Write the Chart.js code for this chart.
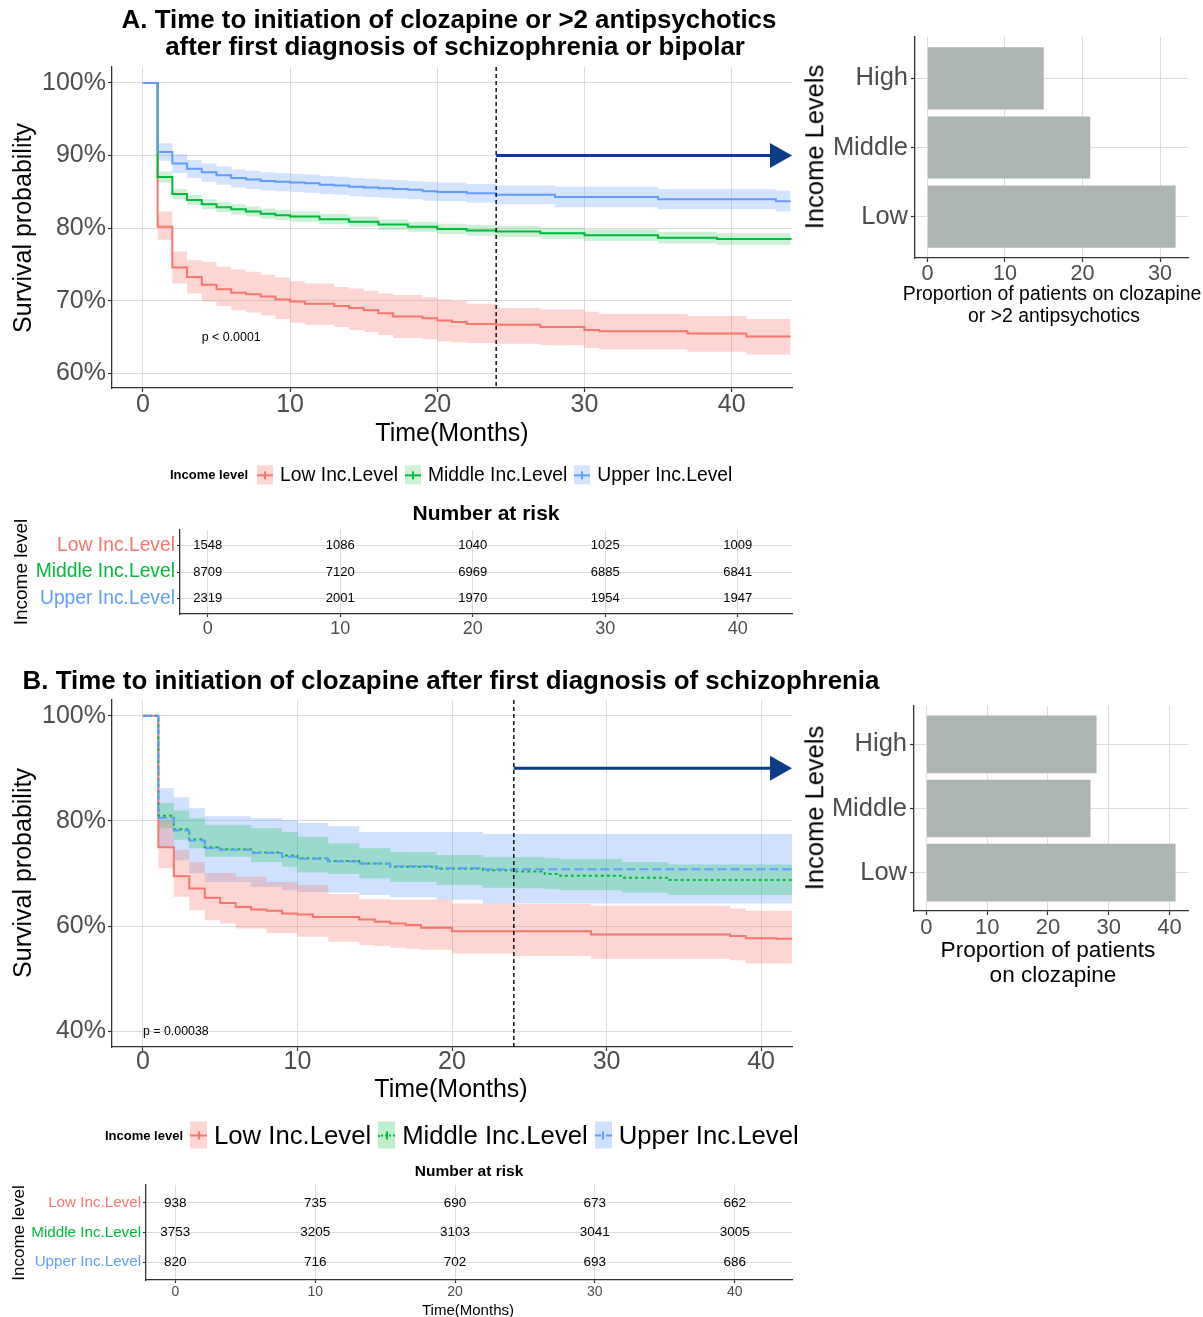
<!DOCTYPE html>
<html>
<head>
<meta charset="utf-8">
<title>Time to initiation of clozapine by income level</title>
<script src="https://cdn.jsdelivr.net/npm/chart.js@4.4.1/dist/chart.umd.min.js"></script>
<style>
  body { margin: 0; background: #fff; }
  #page { position: relative; width: 1203px; height: 1317px; overflow: hidden; font-family: "Liberation Sans", Arial, Helvetica, sans-serif; }
  #page canvas { position: absolute; left: 0; top: 0; }
  .txt { position: absolute; white-space: nowrap; line-height: 1; color: #000; transform: translate(-50%, -50%); }
  .rot { transform: translate(-50%, -50%) rotate(-90deg); }
  .bold { font-weight: bold; }
  .legend { position: absolute; display: flex; align-items: center; transform: translateY(-50%); white-space: nowrap; line-height: 1; }
  .key { position: relative; flex: none; }
  .key .h { position: absolute; left: 0; right: 0; top: 50%; height: 0; margin-top: -1px; border-top-width: 2px; }
  .key .v { position: absolute; left: 50%; top: 50%; width: 2px; height: 8px; margin-left: -1px; margin-top: -4px; }
</style>
</head>
<body>
<div id="page">
  <canvas id="kmA" width="1203" height="1317"></canvas>
  <canvas id="barA" width="1203" height="1317"></canvas>
  <canvas id="riskA" width="1203" height="1317"></canvas>
  <canvas id="kmB" width="1203" height="1317"></canvas>
  <canvas id="barB" width="1203" height="1317"></canvas>
  <canvas id="riskB" width="1203" height="1317"></canvas>

  <!-- panel A -->
  <div class="txt bold" style="left:449px; top:20px; font-size:25.9px;">A. Time to initiation of clozapine or &gt;2 antipsychotics</div>
  <div class="txt bold" style="left:455px; top:47px; font-size:25.9px;">after first diagnosis of schizophrenia or bipolar</div>
  <div class="txt rot" style="left:22px; top:228px; font-size:25px;">Survival probability</div>
  <div class="txt" style="left:452px; top:432px; font-size:25px;">Time(Months)</div>
  <div class="legend" id="legA" style="left:170px; top:475px;"></div>
  <div class="txt bold" style="left:486px; top:512px; font-size:21px;">Number at risk</div>
  <div class="txt rot" style="left:20px; top:572px; font-size:19px;">Income level</div>
  <div class="txt rot" style="left:815px; top:147px; font-size:25.5px;">Income Levels</div>
  <div class="txt" style="left:1052px; top:294px; font-size:19.4px;">Proportion of patients on clozapine</div>
  <div class="txt" style="left:1054px; top:316px; font-size:19.4px;">or &gt;2 antipsychotics</div>

  <!-- panel B -->
  <div class="txt bold" style="left:451px; top:681px; font-size:25.9px;">B. Time to initiation of clozapine after first diagnosis of schizophrenia</div>
  <div class="txt rot" style="left:22px; top:873px; font-size:25px;">Survival probability</div>
  <div class="txt" style="left:451px; top:1088px; font-size:25px;">Time(Months)</div>
  <div class="legend" id="legB" style="left:105px; top:1135px;"></div>
  <div class="txt bold" style="left:469px; top:1171px; font-size:15.5px;">Number at risk</div>
  <div class="txt rot" style="left:18px; top:1233px; font-size:17px;">Income level</div>
  <div class="txt" style="left:468px; top:1309px; font-size:15px;">Time(Months)</div>
  <div class="txt rot" style="left:815px; top:808px; font-size:25.5px;">Income Levels</div>
  <div class="txt" style="left:1048px; top:950px; font-size:22.6px;">Proportion of patients</div>
  <div class="txt" style="left:1053px; top:975px; font-size:22.6px;">on clozapine</div>
</div>

<script>
// ---------- data ----------
const strata = ['Low Inc.Level', 'Middle Inc.Level', 'Upper Inc.Level'];
const incomeLevels = ['Low', 'Middle', 'High'];
const timeTicks = [0, 10, 20, 30, 40];
const aSurvTicks = [60, 70, 80, 90, 100];
const bSurvTicks = [40, 60, 80, 100];
const aPropTicks = [0, 10, 20, 30];
const bPropTicks = [0, 10, 20, 30, 40];

// A: clozapine or >2 antipsychotics, survival (%) with confidence band
const aLowT  = [0, 1, 2, 3, 4, 5, 6, 7, 8, 9, 10, 11, 13, 14, 15, 16, 17, 19, 20, 21, 22, 24, 27, 30, 31, 37, 41, 44];
const aLowS  = [100, 80.2, 74.6, 73.3, 72.2, 71.6, 71.1, 70.9, 70.6, 70.2, 69.9, 69.6, 69.3, 69.0, 68.7, 68.3, 67.85, 67.6, 67.3, 67.1, 66.8, 66.7, 66.4, 66.0, 65.8, 65.5, 65.1, 65.1];
const aLowHi = [100, 82.3, 76.8, 75.6, 75.4, 74.7, 74.3, 74.0, 73.6, 73.2, 72.7, 72.4, 71.9, 71.7, 71.4, 71.0, 70.8, 70.5, 70.2, 70.0, 69.6, 69.0, 68.8, 68.5, 68.2, 67.9, 67.5, 67.5];
const aLowLo = [100, 78.4, 72.4, 71.0, 69.9, 69.3, 68.7, 68.4, 68.0, 67.5, 67.0, 66.7, 66.4, 66.0, 65.7, 65.3, 64.9, 64.7, 64.4, 64.3, 64.2, 64.1, 63.9, 63.5, 63.3, 63.0, 62.6, 62.6];

const aMidT  = [0, 1, 2, 3, 4, 5, 6, 7, 8, 9, 10, 12, 14, 16, 18, 20, 22, 24, 27, 30, 35, 39, 44];
const aMidS  = [100, 87.05, 84.7, 83.9, 83.3, 82.9, 82.6, 82.3, 82.0, 81.8, 81.6, 81.25, 80.9, 80.5, 80.2, 79.9, 79.7, 79.56, 79.3, 79.05, 78.7, 78.5, 78.4];
const aMidHi = [100, 87.8, 85.4, 84.6, 84.0, 83.6, 83.3, 83.0, 82.7, 82.5, 82.3, 81.95, 81.6, 81.2, 80.9, 80.6, 80.45, 80.3, 80.1, 79.85, 79.5, 79.3, 79.2];
const aMidLo = [100, 86.3, 84.0, 83.2, 82.6, 82.2, 81.9, 81.6, 81.3, 81.1, 80.9, 80.55, 80.2, 79.8, 79.5, 79.2, 78.95, 78.8, 78.5, 78.25, 77.9, 77.7, 77.6];

const aUppT  = [0, 1, 2, 3, 4, 5, 6, 7, 8, 9, 10, 11, 12, 13, 14, 15, 16, 17, 18, 19, 20, 22, 24, 28, 35, 43, 44];
const aUppS  = [100, 90.5, 88.9, 88.2, 87.7, 87.3, 86.9, 86.7, 86.5, 86.4, 86.3, 86.2, 86.0, 85.9, 85.7, 85.6, 85.5, 85.4, 85.3, 85.1, 85.0, 84.8, 84.6, 84.3, 84.0, 83.7, 83.7];
const aUppHi = [100, 91.7, 90.2, 89.4, 88.9, 88.5, 88.1, 87.9, 87.7, 87.6, 87.5, 87.4, 87.2, 87.1, 86.9, 86.8, 86.7, 86.6, 86.5, 86.4, 86.3, 86.1, 85.9, 85.7, 85.4, 85.2, 85.2];
const aUppLo = [100, 89.3, 87.6, 86.9, 86.4, 86.0, 85.6, 85.4, 85.2, 85.1, 85.0, 84.9, 84.7, 84.6, 84.4, 84.3, 84.2, 84.1, 84.0, 83.8, 83.7, 83.5, 83.3, 82.9, 82.6, 82.3, 82.3];

// B: clozapine only
const bLowT  = [0, 1, 2, 3, 4, 5, 6, 7, 8, 9, 10, 11, 12, 14, 15, 16, 17, 18, 20, 24, 29, 38, 39, 41, 42];
const bLowS  = [100, 75.0, 69.5, 67.15, 65.4, 64.4, 63.65, 63.15, 62.9, 62.4, 62.2, 61.75, 61.75, 61.25, 60.8, 60.5, 60.2, 59.7, 59.0, 59.0, 58.4, 58.1, 57.7, 57.6, 57.6];
const bLowHi = [100, 80.0, 74.45, 72.2, 70.1, 70.1, 69.4, 69.4, 68.4, 68.4, 67.8, 67.8, 66.1, 65.1, 65.1, 65.0, 65.0, 65.0, 64.3, 64.2, 63.85, 63.35, 62.9, 62.9, 62.9];
const bLowLo = [100, 71.0, 65.6, 63.0, 61.1, 60.5, 59.55, 59.55, 58.7, 58.7, 57.95, 57.95, 57.0, 56.4, 56.2, 55.9, 55.7, 55.5, 54.8, 54.3, 53.8, 53.5, 52.9, 52.9, 52.9];

const bMidT  = [0, 1, 2, 3, 4, 5, 7, 9, 10, 12, 14, 16, 19, 22, 24, 26, 27, 31, 34, 42];
const bMidS  = [100, 81.0, 78.4, 76.5, 75.0, 74.6, 74.0, 73.4, 72.9, 72.4, 71.9, 71.3, 70.9, 70.6, 70.4, 69.9, 69.55, 69.2, 68.75, 68.75];
const bMidHi = [100, 83.4, 82.0, 80.5, 79.2, 79.2, 78.6, 77.9, 77.0, 75.7, 74.8, 74.1, 73.5, 73.1, 73.1, 72.9, 72.7, 72.2, 71.7, 71.7];
const bMidLo = [100, 78.6, 76.4, 74.8, 73.2, 73.2, 72.2, 71.3, 70.2, 69.9, 69.1, 68.4, 67.8, 67.3, 67.2, 67.0, 66.8, 66.4, 65.9, 65.9];

const bUppT  = [0, 1, 2, 3, 4, 5, 7, 9, 10, 12, 14, 16, 19, 22, 42];
const bUppS  = [100, 80.6, 78.2, 76.3, 74.8, 74.5, 73.9, 73.2, 72.8, 72.3, 71.9, 71.4, 71.0, 70.8, 70.8];
const bUppHi = [100, 86.2, 84.5, 82.4, 80.9, 80.9, 80.5, 80.15, 79.6, 79.0, 77.9, 77.9, 77.9, 77.5, 77.5];
const bUppLo = [100, 75.0, 72.5, 70.0, 68.4, 68.4, 67.5, 66.8, 66.5, 66.4, 65.9, 65.5, 65.0, 64.3, 64.3];

// number at risk at 0, 10, 20, 30, 40 months
const aRiskLow = [1548, 1086, 1040, 1025, 1009];
const aRiskMid = [8709, 7120, 6969, 6885, 6841];
const aRiskUpp = [2319, 2001, 1970, 1954, 1947];
const bRiskLow = [938, 735, 690, 673, 662];
const bRiskMid = [3753, 3205, 3103, 3041, 3005];
const bRiskUpp = [820, 716, 702, 693, 686];

// proportion of patients (%) by income level: Low, Middle, High
const aProportion = [32, 21, 15];
const bProportion = [41, 27, 28];

// ---------- styling ----------
const PAGE_W = 1203, PAGE_H = 1317;
const FONT = '"Liberation Sans", Arial, Helvetica, sans-serif';
const LOW = '#F8766D', MID = '#00BA38', UPP = '#619CFF';
const strataColors = [LOW, MID, UPP];
const GRID = '#dcdcdc', AXIS = '#333333', TICK = '#4d4d4d', BAR = '#adb4b4';
Chart.defaults.font.family = FONT;

function pts(t, v) {
    return t.map((x, i) => ({ x: x, y: v[i] }));
}

// lines first so they sit on top, then bands (Upper band lowest)
function kmDatasets(series) {
    const lines = series.slice().reverse().map(s => ({
        data: pts(s.t, s.s), borderColor: s.color, borderWidth: 2, borderDash: s.dash || [],
        stepped: true, pointRadius: 0, fill: false
    }));
    const bands = [];
    series.forEach(s => {
        bands.push({ data: pts(s.t, s.hi), borderWidth: 0, borderColor: 'transparent', pointRadius: 0, stepped: true, fill: false });
        bands.push({ data: pts(s.t, s.lo), borderWidth: 0, borderColor: 'transparent', pointRadius: 0, stepped: true, fill: '-1', backgroundColor: s.band });
    });
    return lines.concat(bands);
}

// place the plot area at page coordinates
function frame(L, T, R, B, yW, xH) {
    return { autoPadding: false, padding: { left: L - yW, top: T, right: PAGE_W - R, bottom: PAGE_H - B - xH } };
}

function axis(min, max, ticks, fit, isX, o) {
    const a = {
        type: 'linear', min: min, max: max, reverse: !!o.reverse, offset: false,
        afterBuildTicks: s => { s.ticks = ticks.map(v => ({ value: v })); },
        afterFit: s => { if (isX) s.height = fit; else s.width = fit; },
        grid: { color: GRID, lineWidth: 1, offset: false, tickLength: o.tl || 4, tickColor: AXIS, tickWidth: 1.2 },
        border: { display: true, color: AXIS, width: 1.3 },
        ticks: { color: o.color || TICK, font: { size: o.size }, padding: o.pad, maxRotation: 0, minRotation: 0, autoSkip: false }
    };
    if (o.fmt) a.ticks.callback = o.fmt;
    return a;
}

function baseOptions(layout, scales, extra) {
    return {
        responsive: false, animation: false, events: [],
        layout: layout, scales: scales,
        plugins: Object.assign({ legend: { display: false }, tooltip: { enabled: false } }, extra || {})
    };
}

// cut-off line at 24 months, arrow to the bar chart, p value
const kmExtras = {
    id: 'kmExtras',
    afterDatasetsDraw(chart, args, o) {
        const { ctx, chartArea: a, scales: { x, y } } = chart;
        const px = x.getPixelForValue(o.cut);
        const py = y.getPixelForValue(o.arrowY);
        ctx.save();
        ctx.strokeStyle = '#000';
        ctx.lineWidth = 1.4;
        ctx.setLineDash([4, 3]);
        ctx.beginPath();
        ctx.moveTo(px, a.top);
        ctx.lineTo(px, a.bottom);
        ctx.stroke();
        ctx.setLineDash([]);

        ctx.strokeStyle = ctx.fillStyle = '#0b3d87';
        ctx.lineWidth = 3;
        ctx.beginPath();
        ctx.moveTo(px, py);
        ctx.lineTo(a.right - 18, py);
        ctx.stroke();
        ctx.beginPath();
        ctx.moveTo(a.right, py);
        ctx.lineTo(a.right - 22, py - 12.5);
        ctx.lineTo(a.right - 22, py + 12.5);
        ctx.closePath();
        ctx.fill();

        ctx.fillStyle = '#000';
        ctx.font = '12.4px ' + FONT;
        ctx.textAlign = o.pAlign;
        ctx.textBaseline = 'middle';
        ctx.fillText(o.pText, x.getPixelForValue(o.pX), y.getPixelForValue(o.pY));
        ctx.restore();
    }
};

// numbers of the risk table, written at each point of the scatter
const riskText = {
    id: 'riskText',
    afterDatasetsDraw(chart, args, o) {
        const ctx = chart.ctx;
        ctx.save();
        ctx.font = o.size + 'px ' + FONT;
        ctx.fillStyle = '#000';
        ctx.textAlign = 'center';
        ctx.textBaseline = 'middle';
        chart.data.datasets.forEach((ds, i) => {
            chart.getDatasetMeta(i).data.forEach((el, j) => ctx.fillText(String(ds.data[j].n), el.x, el.y));
        });
        ctx.restore();
    }
};

function riskData(rows) {
    return rows.map((r, i) => ({
        data: timeTicks.map((t, j) => ({ x: t, y: i + 1, n: r[j] })),
        pointRadius: 0, showLine: false
    }));
}

const rowColor = c => (c.tick ? strataColors[c.tick.value - 1] : '#000');

// ---------- panel A ----------
new Chart(document.getElementById('kmA'), {
    type: 'line',
    data: {
        datasets: kmDatasets([
            { t: aLowT, s: aLowS, hi: aLowHi, lo: aLowLo, color: LOW, band: 'rgba(248,118,109,0.3)' },
            { t: aMidT, s: aMidS, hi: aMidHi, lo: aMidLo, color: MID, band: 'rgba(0,186,56,0.2)' },
            { t: aUppT, s: aUppS, hi: aUppHi, lo: aUppLo, color: UPP, band: 'rgba(97,156,255,0.27)' }
        ])
    },
    options: baseOptions(frame(112, 67, 792, 388, 90, 40), {
        x: axis(-2.1, 44.1, timeTicks, 40, true, { size: 25, pad: -2 }),
        y: axis(58.0, 102.2, aSurvTicks, 90, false, { size: 25, pad: 2, fmt: v => v + '%' })
    }, { kmExtras: { cut: 24, arrowY: 90, pText: 'p < 0.0001', pX: 6, pY: 65, pAlign: 'center' } }),
    plugins: [kmExtras]
});

new Chart(document.getElementById('barA'), {
    type: 'bar',
    data: {
        datasets: [{
            data: incomeLevels.map((c, i) => ({ x: aProportion[i], y: i + 1 })),
            backgroundColor: BAR, barPercentage: 0.9, categoryPercentage: 1
        }]
    },
    options: Object.assign(baseOptions(frame(915, 37, 1188, 258, 100, 30), {
        x: axis(-1.6, 33.6, aPropTicks, 30, true, { size: 21.6, pad: -1 }),
        y: axis(0.4, 3.6, [1, 2, 3], 100, false, { size: 25.5, pad: 3, fmt: v => incomeLevels[v - 1] })
    }), { indexAxis: 'y' })
});

new Chart(document.getElementById('riskA'), {
    type: 'scatter',
    data: { datasets: riskData([aRiskLow, aRiskMid, aRiskUpp]) },
    options: baseOptions(frame(180, 530, 792, 614, 170, 30), {
        x: axis(-2.1, 44.1, timeTicks, 30, true, { size: 18, pad: 1, tl: 3 }),
        y: axis(0.4, 3.6, [1, 2, 3], 170, false, { size: 19.3, pad: 2, tl: 3, reverse: true, color: rowColor, fmt: v => strata[v - 1] })
    }, { riskText: { size: 13 } }),
    plugins: [riskText]
});

// ---------- panel B ----------
new Chart(document.getElementById('kmB'), {
    type: 'line',
    data: {
        datasets: kmDatasets([
            { t: bLowT, s: bLowS, hi: bLowHi, lo: bLowLo, color: LOW, band: 'rgba(248,118,109,0.3)' },
            { t: bMidT, s: bMidS, hi: bMidHi, lo: bMidLo, color: MID, band: 'rgba(0,186,56,0.25)', dash: [3, 3] },
            { t: bUppT, s: bUppS, hi: bUppHi, lo: bUppLo, color: UPP, band: 'rgba(97,156,255,0.3)', dash: [9, 4] }
        ])
    },
    options: baseOptions(frame(112, 700, 792, 1047, 90, 40), {
        x: axis(-2.0, 42.0, timeTicks, 40, true, { size: 25, pad: -4 }),
        y: axis(37, 103, bSurvTicks, 90, false, { size: 25, pad: 2, fmt: v => v + '%' })
    }, { kmExtras: { cut: 24, arrowY: 90, pText: 'p = 0.00038', pX: 0, pY: 40, pAlign: 'left' } }),
    plugins: [kmExtras]
});

new Chart(document.getElementById('barB'), {
    type: 'bar',
    data: {
        datasets: [{
            data: incomeLevels.map((c, i) => ({ x: bProportion[i], y: i + 1 })),
            backgroundColor: BAR, barPercentage: 0.9, categoryPercentage: 1
        }]
    },
    options: Object.assign(baseOptions(frame(914, 706, 1188, 911, 100, 30), {
        x: axis(-2.05, 43.05, bPropTicks, 30, true, { size: 22, pad: 0 }),
        y: axis(0.4, 3.6, [1, 2, 3], 100, false, { size: 25.5, pad: 3, fmt: v => incomeLevels[v - 1] })
    }), { indexAxis: 'y' })
});

new Chart(document.getElementById('riskB'), {
    type: 'scatter',
    data: { datasets: riskData([bRiskLow, bRiskMid, bRiskUpp]) },
    options: baseOptions(frame(146, 1185, 792, 1280, 140, 30), {
        x: axis(-2.1, 44.1, timeTicks, 30, true, { size: 14, pad: 1, tl: 3 }),
        y: axis(0.4, 3.6, [1, 2, 3], 140, false, { size: 15.2, pad: 2, tl: 3, reverse: true, color: rowColor, fmt: v => strata[v - 1] })
    }, { riskText: { size: 13.5 } }),
    plugins: [riskText]
});

// ---------- legends ----------
function buildLegend(id, o) {
    const box = document.getElementById(id);
    const title = document.createElement('span');
    title.className = 'bold';
    title.style.fontSize = '13px';
    title.style.marginRight = o.titleGap + 'px';
    title.textContent = 'Income level';
    box.appendChild(title);
    strata.forEach((name, i) => {
        const key = document.createElement('div');
        key.className = 'key';
        key.style.width = o.keyW + 'px';
        key.style.height = o.keyH + 'px';
        key.style.background = o.bands[i];
        const h = document.createElement('div');
        h.className = 'h';
        h.style.borderTopStyle = o.styles[i];
        h.style.borderTopColor = strataColors[i];
        const v = document.createElement('div');
        v.className = 'v';
        v.style.background = strataColors[i];
        key.appendChild(h);
        key.appendChild(v);
        const label = document.createElement('span');
        label.style.fontSize = o.size + 'px';
        label.style.margin = '0 7px';
        label.textContent = name;
        box.appendChild(key);
        box.appendChild(label);
    });
}

buildLegend('legA', {
    keyW: 16, keyH: 19, size: 19.3, titleGap: 9,
    bands: ['rgba(248,118,109,0.3)', 'rgba(0,186,56,0.2)', 'rgba(97,156,255,0.27)'],
    styles: ['solid', 'solid', 'solid']
});
buildLegend('legB', {
    keyW: 17, keyH: 27, size: 25.7, titleGap: 7,
    bands: ['rgba(248,118,109,0.3)', 'rgba(0,186,56,0.25)', 'rgba(97,156,255,0.3)'],
    styles: ['solid', 'dotted', 'dashed']
});
</script>
</body>
</html>
